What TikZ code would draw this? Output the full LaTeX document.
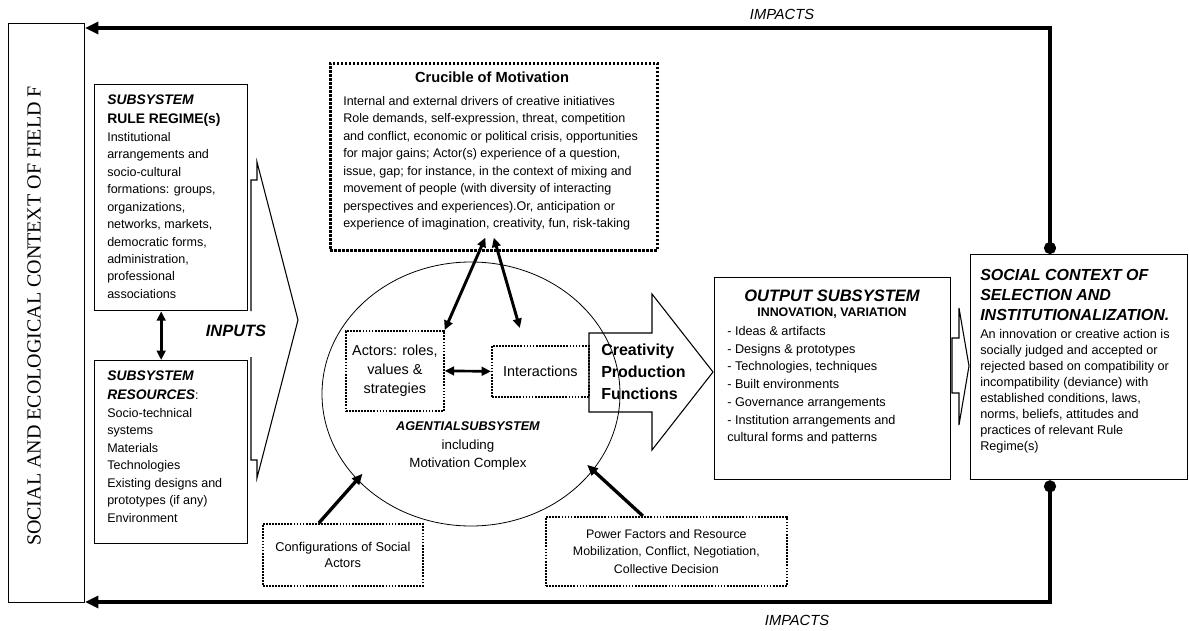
\documentclass[tikz,border=0pt]{standalone}
\usepackage{fontspec}
\setmainfont{Liberation Sans}
\newfontfamily\fieldserif{Liberation Serif}
\usepackage{tikz}
\usetikzlibrary{positioning, arrows.meta, calc, shapes.geometric}

\tikzset{
  plainbox/.style={draw, line width=1pt, inner sep=0pt},
  dotbox/.style={draw, densely dotted, line width=1.3pt, inner sep=0pt, align=center},
  body/.style={inner sep=0pt, align=left, font=\fontsize{9.4}{13.1}\selectfont},
  impact/.style={line width=3pt, {Circle[length=9pt]}-{Triangle[length=10pt,width=9pt]}},
  dbl/.style={line width=2.2pt, {Triangle[length=7pt,width=6.5pt]}-{Triangle[length=7pt,width=6.5pt]}},
  push/.style={line width=2.5pt, -{Triangle[length=8pt,width=7pt]}, shorten >=-6pt},
  blockarrow/.style={draw, line width=0.8pt, line join=miter}
}

\begin{document}
\begin{tikzpicture}[x=0.75pt, y=-0.75pt]
    \useasboundingbox (0,0) rectangle (1189,631);

    % outer field
    \node[plainbox, line width=0.8pt, minimum width=57pt, minimum height=434.25pt, anchor=north west] (field) at (8,23) {};
    \node[rotate=90, font=\fieldserif\fontsize{15}{18}\selectfont] (fieldlbl) at (34,316) {SOCIAL AND ECOLOGICAL CONTEXT OF FIELD F};

    % inputs
    \node[plainbox, minimum width=114.75pt, minimum height=169.5pt, anchor=north west] (rules) at (94,84) {};
    \node[body, anchor=north west] (rulestxt) at (107,95) {%
      {\fontsize{10.4}{15}\selectfont\bfseries\itshape SUBSYSTEM}\\[1pt]
      {\fontsize{10.4}{15}\selectfont\bfseries RULE REGIME(s)}\\
      Institutional\\ arrangements and\\ socio-cultural\\ formations: groups,\\ organizations,\\
      networks, markets,\\ democratic forms,\\ administration,\\ professional\\ associations};
    \node[plainbox, minimum width=114.75pt, minimum height=137.25pt, anchor=north west] (res) at (94,360) {};
    \node[body, anchor=north west] (restxt) at (107,371) {%
      {\fontsize{10.4}{15}\selectfont\bfseries\itshape SUBSYSTEM}\\[1pt]
      {\fontsize{10.4}{15}\selectfont\bfseries\itshape RESOURCES}:\\
      Socio-technical\\ systems\\ Materials\\ Technologies\\ Existing designs and\\ prototypes (if any)\\ Environment};
    \draw[dbl, line width=2.5pt] ([xshift=-7.5pt]rules.south) -- ([xshift=-7.5pt]res.north);
    \node[font=\fontsize{12.3}{14}\selectfont\bfseries\itshape] (inputs) at (236,331) {INPUTS};
    \draw[blockarrow] (251,311) -- (251,180) -- (257,180) -- (257,162) -- (298,320) -- (257,478) -- (257,460) -- (251,460) -- (251,357);

    % motivation
    \node[dotbox, line width=2pt, minimum width=245.25pt, minimum height=140.25pt, anchor=north west] (crucible) at (329,62) {};
    \node[font=\fontsize{11}{13}\selectfont\bfseries] (cructitle) at (492,77) {Crucible of Motivation};
    \node[body, anchor=north west] (cructxt) at (343,96) {%
      Internal and external drivers of creative initiatives\\
      Role demands, self-expression, threat, competition\\
      and conflict, economic or political crisis, opportunities\\
      for major gains; Actor(s) experience of a question,\\
      issue, gap; for instance, in the context of mixing and\\
      movement of people (with diversity of interacting\\
      perspectives and experiences).Or, anticipation or\\
      experience of imagination, creativity, fun, risk-taking};

    % agential subsystem
    \node[ellipse, draw, line width=0.6pt, minimum width=223.5pt, minimum height=198pt, inner sep=0pt] (agent) at (471,394) {};
    \node[dotbox, minimum width=73.5pt, minimum height=60pt, anchor=north west, font=\fontsize{10.8}{14.3}\selectfont] (actors) at (345,330) {Actors: roles,\\values \&\\strategies};
    \node[dotbox, minimum width=72.75pt, minimum height=38.25pt, anchor=north west, font=\fontsize{10.8}{13}\selectfont] (inter) at (491,345) {Interactions};
    \draw[dbl, line width=2pt] (actors.east) -- (inter.west);
    \draw[dbl] (actors.north east) -- ([shift={(-6.4pt,10.5pt)}]crucible.south);
    \draw[dbl] ([shift={(0pt,10.5pt)}]crucible.south) -- ([shift={(-15.4pt,12.75pt)}]inter.north);
    \node[font=\fontsize{9.5}{12}\selectfont\bfseries\itshape] (agentlbl) at (468,426) {AGENTIALSUBSYSTEM};
    \node[align=center, font=\fontsize{10}{13.5}\selectfont] (agentsub) at (468,455) {including\\Motivation Complex};

    % production
    \draw[blockarrow] (589,333) -- (652,333) -- (652,294) -- (713,372) -- (652,450) -- (652,412) -- (589,412) -- cycle;
    \node[anchor=west, align=left, inner sep=0pt, font=\fontsize{12}{16.5}\selectfont\bfseries] (cpf) at (601,372) {Creativity\\Production\\Functions};

    % outputs
    \node[plainbox, minimum width=177pt, minimum height=151.5pt, anchor=north west] (output) at (714,277) {};
    \node[font=\fontsize{12.4}{14}\selectfont\bfseries\itshape] (outtitle) at (832,296) {OUTPUT SUBSYSTEM};
    \node[font=\fontsize{9.3}{11}\selectfont\bfseries] (outsub) at (832,313) {INNOVATION, VARIATION};
    \node[body, font=\fontsize{9.5}{13.3}\selectfont, anchor=north west] (outlist) at (727,326) {%
      - Ideas \& artifacts\\ - Designs \& prototypes\\ - Technologies, techniques\\ - Built environments\\
      - Governance arrangements\\ - Institution arrangements and\\ cultural forms and patterns};
    \draw[blockarrow] (952,338) -- (959,338) -- (959,308) -- (969,366) -- (959,425) -- (959,393) -- (952,393) -- cycle;

    % selection
    \node[plainbox, minimum width=162.75pt, minimum height=168.75pt, anchor=north west] (select) at (970,254) {};
    \node[body, font=\fontsize{12}{15}\selectfont\bfseries\itshape, anchor=north west] (seltitle) at (980,269) {SOCIAL CONTEXT OF\\SELECTION AND\\INSTITUTIONALIZATION.};
    \node[body, font=\fontsize{9.5}{12}\selectfont, anchor=north west] (seltxt) at (980,329) {%
      An innovation or creative action is\\ socially judged and accepted or\\ rejected based on compatibility or\\
      incompatibility (deviance) with\\ established conditions, laws,\\ norms, beliefs, attitudes and\\
      practices of relevant Rule\\ Regime(s)};

    % impacts back to the field
    \coordinate (topR) at (1050,28);
    \coordinate (botR) at (1050,602);
    \draw[impact] (select.north -| topR) -- (topR) -- (field.east |- topR);
    \draw[impact] (select.south -| botR) -- (botR) -- (field.east |- botR);
    \node[font=\fontsize{11}{13}\selectfont\itshape] (imptop) at (782,14) {IMPACTS};
    \node[font=\fontsize{11}{13}\selectfont\itshape] (impbot) at (797,620) {IMPACTS};

    % social forces
    \node[dotbox, minimum width=120pt, minimum height=46.5pt, anchor=north west, font=\fontsize{9.6}{12.5}\selectfont] (config) at (262,523) {Configurations of Social\\Actors};
    \node[dotbox, minimum width=180.75pt, minimum height=51.75pt, anchor=north west, font=\fontsize{9.3}{13}\selectfont] (power) at (545,516) {Power Factors and Resource\\Mobilization, Conflict, Negotiation,\\Collective Decision};
    \draw[push] ([xshift=-18pt]config.north) -- (agent.217);
    \draw[push] ([xshift=-17.6pt]power.north) -- (agent.328);
\end{tikzpicture}
\end{document}
